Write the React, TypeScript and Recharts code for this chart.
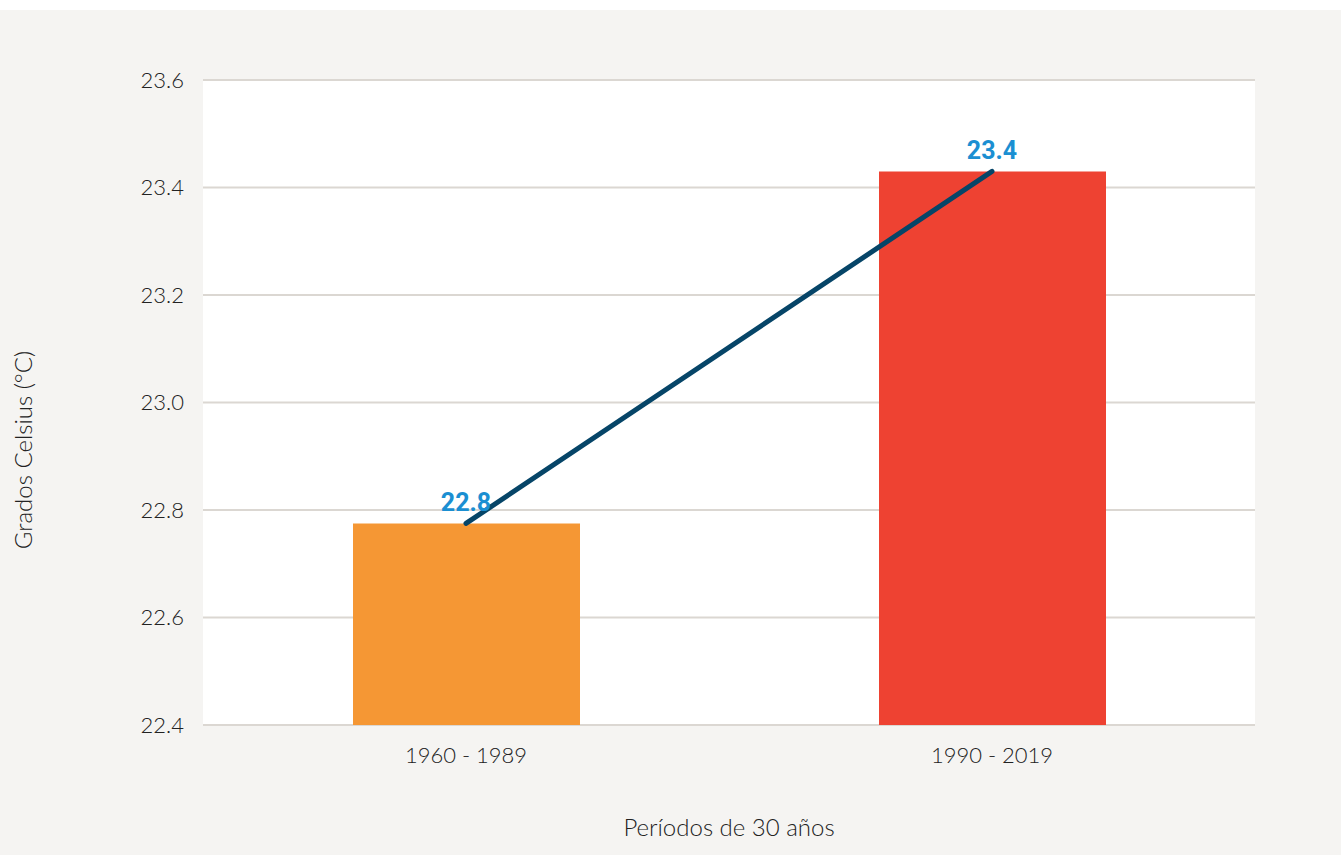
import { Bar, Cell, ComposedChart, CartesianGrid, LabelList, Line, XAxis, YAxis } from 'recharts'

const periods = ['1960 - 1989', '1990 - 2019']
const avgTemps = [22.775, 23.43]
const barColors = ['#f59734', '#ee4232']
const yTicks = [22.4, 22.6, 22.8, 23.0, 23.2, 23.4, 23.6]

const data = periods.map((period, i) => ({ period, temp: avgTemps[i] }))

const tickStyle = { fontFamily: 'Lato', fontWeight: 300, fontSize: 22, fill: '#222' }
const titleStyle = { ...tickStyle, fontSize: 24 }

export default function App() {
  return (
    <div style={{ position: 'absolute', left: 0, top: 10, width: 1341, height: 845, background: '#f5f4f2' }}>
      <ComposedChart width={1341} height={845} data={data} margin={{ top: 70, right: 86, bottom: 0, left: 0 }}>
        <CartesianGrid vertical={false} fill="#ffffff" stroke="#dbd7d2" strokeWidth={2} />
        <XAxis
          dataKey="period"
          height={130}
          axisLine={false}
          tickLine={false}
          tickSize={0}
          tickMargin={22}
          tick={tickStyle}
          label={{ value: 'Períodos de 30 años', position: 'insideBottom', offset: 19, style: titleStyle }}
        />
        <YAxis
          width={203}
          domain={[22.4, 23.6]}
          ticks={yTicks}
          tickFormatter={(v) => v.toFixed(1)}
          axisLine={false}
          tickLine={false}
          tickSize={0}
          tickMargin={19}
          tick={tickStyle}
          label={{
            value: 'Grados Celsius (°C)',
            content: () => (
              <text
                x={22}
                y={440}
                transform="rotate(-90 22 440)"
                textAnchor="middle"
                dominantBaseline="central"
                style={titleStyle}
              >
                Grados Celsius (°C)
              </text>
            ),
          }}
        />
        <Bar dataKey="temp" barSize={227} isAnimationActive={false}>
          {data.map((d, i) => (
            <Cell key={d.period} fill={barColors[i]} />
          ))}
        </Bar>
        <Line
          dataKey="temp"
          stroke="#064568"
          strokeWidth={5}
          strokeLinecap="round"
          dot={false}
          activeDot={false}
          isAnimationActive={false}
        >
          <LabelList
            dataKey="temp"
            position="top"
            offset={12}
            formatter={(v: number) => v.toFixed(1)}
            style={{ fontFamily: 'Roboto', fontWeight: 700, fontSize: 25, fill: '#1b8fd2' }}
          />
        </Line>
      </ComposedChart>
    </div>
  )
}
